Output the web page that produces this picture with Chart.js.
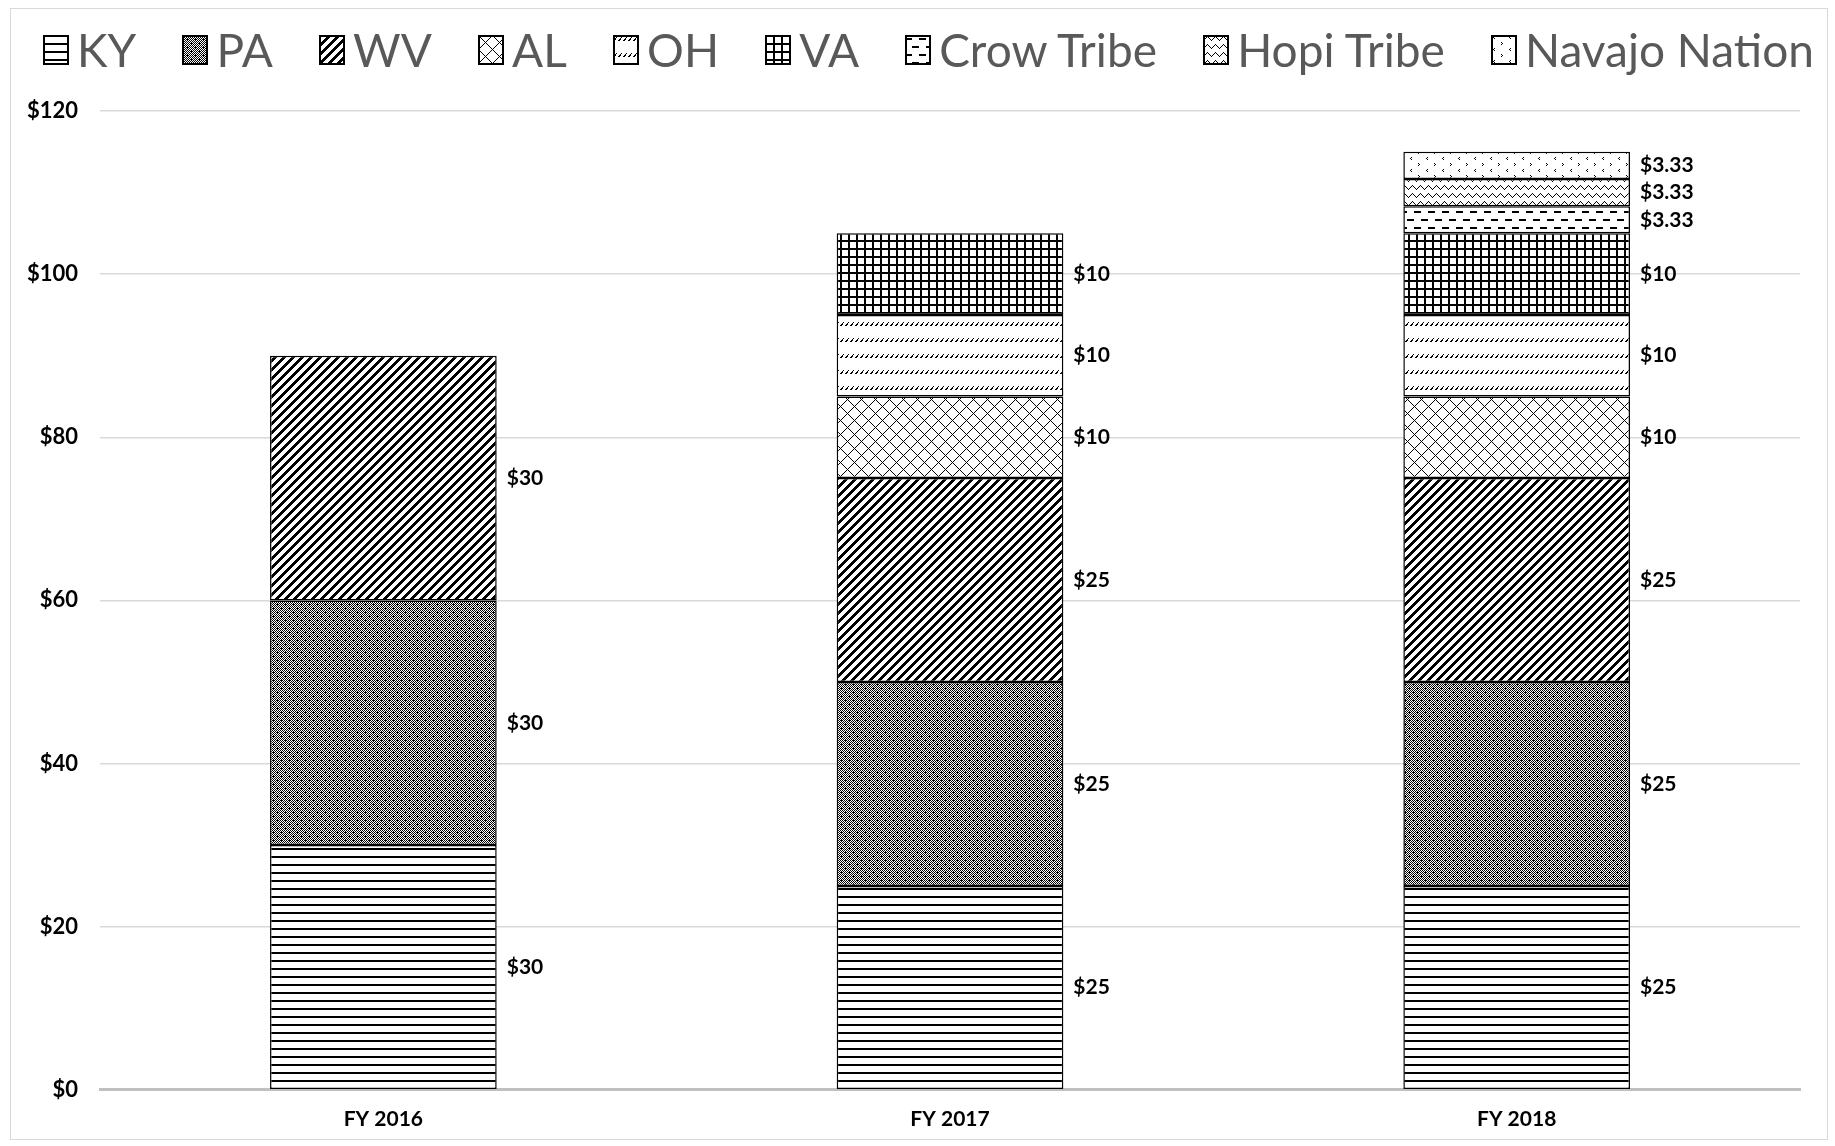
<!DOCTYPE html>
<html>
<head>
<meta charset="utf-8">
<script src="https://cdn.jsdelivr.net/npm/chart.js@4/dist/chart.umd.min.js"></script>
<style>
  body { margin: 0; background: #fff; }
  #wrap { position: relative; width: 1835px; height: 1146px; }
  #frame { position: absolute; left: 10px; top: 8px; width: 1818px; height: 1132px; border: 1.5px solid #d9d9d9; box-sizing: border-box; }
  #legend { position: absolute; left: 43px; width: 1771px; top: 22px; display: flex; justify-content: space-between; align-items: center;
            font-family: Lato, sans-serif; font-size: 46px; color: #595959; line-height: 55px; }
  #legend .item { display: flex; align-items: center; }
  #legend canvas { margin-right: 8px; }
  #box { position: absolute; left: 0; top: 0; width: 1835px; height: 1146px; }
  #box canvas { display: block; }
</style>
</head>
<body>
<div id="wrap">
  <div id="frame"></div>
  <div id="box"><canvas id="chart"></canvas></div>
  <div id="legend"></div>
</div>
<script>
const years = ['FY 2016', 'FY 2017', 'FY 2018']
const seriesNames = ['KY', 'PA', 'WV', 'AL', 'OH', 'VA', 'Crow Tribe', 'Hopi Tribe', 'Navajo Nation']
const KY = [30, 25, 25]
const PA = [30, 25, 25]
const WV = [30, 25, 25]
const AL = [null, 10, 10]
const OH = [null, 10, 10]
const VA = [null, 10, 10]
const crow = [null, null, 3.33]
const hopi = [null, null, 3.33]
const navajo = [null, null, 3.33]
const yTicks = [0, 20, 40, 60, 80, 100, 120]

// black-on-white fill patterns, one per series
function makeTile(w, h, draw) {
    const c = document.createElement('canvas')
    c.width = w
    c.height = h
    const ctx = c.getContext('2d')
    ctx.fillStyle = '#fff'
    ctx.fillRect(0, 0, w, h)
    ctx.fillStyle = '#000'
    draw(ctx, w, h)
    return c
}

const tiles = {
    'KY': makeTile(8, 8, (ctx) => { ctx.fillRect(0, 0, 8, 2) }),
    'PA': makeTile(8, 8, (ctx) => {
        for (let y = 0; y < 8; y++) {
            for (let x = 0; x < 8; x++) {
                if ((x + y) % 2 == 0) ctx.fillRect(x, y, 1, 1)
            }
        }
        ctx.fillRect(1, 0, 1, 1)
        ctx.fillRect(5, 4, 1, 1)
    }),
    'WV': makeTile(9, 9, (ctx) => {
        for (let y = 0; y < 9; y++) {
            for (let x = 0; x < 9; x++) {
                if ((x + y) % 9 < 4) ctx.fillRect(x, y, 1, 1)
            }
        }
    }),
    'AL': makeTile(14, 14, (ctx) => {
        for (let i = 0; i < 14; i++) {
            ctx.fillRect(i, i, 1, 1)
            ctx.fillRect(i, (14 - i) % 14, 1, 1)
        }
    }),
    'OH': makeTile(5, 16, (ctx) => {
        ctx.fillRect(0, 5, 1, 1)
        ctx.fillRect(1, 4, 1, 1)
        ctx.fillRect(2, 3, 1, 1)
        ctx.fillRect(3, 2, 1, 1)
        ctx.fillRect(1, 5, 1, 1)
        ctx.fillRect(2, 4, 1, 1)
    }),
    'VA': makeTile(8, 8, (ctx) => {
        ctx.fillRect(0, 0, 8, 2)
        ctx.fillRect(0, 0, 2, 8)
    }),
    'Crow Tribe': makeTile(14, 16, (ctx) => {
        ctx.fillRect(0, 3, 7, 2)
        ctx.fillRect(7, 11, 7, 2)
    }),
    'Hopi Tribe': makeTile(8, 8, (ctx) => {
        for (let x = 0; x < 8; x++) {
            const y = x <= 4 ? 5 - x : x - 3
            ctx.fillRect(x, y, 1, 1)
        }
    }),
    'Navajo Nation': makeTile(16, 12, (ctx) => {
        ctx.fillRect(3, 1, 1, 1)
        ctx.fillRect(2, 2, 1, 1)
        ctx.fillRect(3, 3, 1, 1)
        ctx.fillRect(10, 7, 1, 1)
        ctx.fillRect(11, 8, 1, 1)
        ctx.fillRect(10, 9, 1, 1)
    })
}

const chartCtx = document.getElementById('chart').getContext('2d')
function patternFor(name) {
    return chartCtx.createPattern(tiles[name], 'repeat')
}

const values = [KY, PA, WV, AL, OH, VA, crow, hopi, navajo]
const datasets = []
for (let i = 0; i < seriesNames.length; i++) {
    datasets.push({
        label: seriesNames[i],
        data: values[i],
        backgroundColor: patternFor(seriesNames[i]),
        borderColor: '#000',
        borderWidth: 1.5,
        borderSkipped: false,
        categoryPercentage: 1.0,
        barPercentage: 0.4
    })
}

// value labels to the right of each segment
const sideLabels = {
    id: 'sideLabels',
    afterDatasetsDraw(chart) {
        const ctx = chart.ctx
        ctx.save()
        ctx.font = 'bold 21px Lato'
        ctx.fillStyle = '#000'
        ctx.textAlign = 'left'
        ctx.textBaseline = 'middle'
        chart.data.datasets.forEach((ds, i) => {
            const meta = chart.getDatasetMeta(i)
            meta.data.forEach((bar, j) => {
                const v = ds.data[j]
                if (v == null) return
                ctx.fillText('$' + v, bar.x + bar.width / 2 + 10, (bar.y + bar.base) / 2)
            })
        })
        ctx.restore()
    }
}

const chart = new Chart(document.getElementById('chart'), {
    type: 'bar',
    data: { labels: years, datasets: datasets },
    options: {
        responsive: true,
        maintainAspectRatio: false,
        animation: false,
        devicePixelRatio: 1,
        layout: { padding: { left: 5, right: 35, top: 111, bottom: -3 } },
        plugins: {
            legend: { display: false },
            tooltip: { enabled: false }
        },
        scales: {
            x: {
                stacked: true,
                grid: { display: false, drawTicks: false },
                border: { display: true, color: '#c0c0c0', width: 3 },
                ticks: { color: '#000', font: { family: 'Lato', weight: 'bold', size: 21 }, padding: 17 }
            },
            y: {
                stacked: true,
                min: 0,
                max: 120,
                afterBuildTicks: (axis) => { axis.ticks = yTicks.map(v => ({ value: v })) },
                grid: { color: '#d9d9d9', lineWidth: 1.5, drawTicks: false },
                border: { display: false },
                ticks: {
                    color: '#000',
                    font: { family: 'Lato', weight: 'bold', size: 22 },
                    padding: 22,
                    callback: (v) => '$' + v
                }
            }
        }
    },
    plugins: [sideLabels]
})

// legend as html, swatches painted with the same patterns
const legend = document.getElementById('legend')
for (let i = 0; i < seriesNames.length; i++) {
    const item = document.createElement('div')
    item.className = 'item'
    const sw = document.createElement('canvas')
    sw.width = 26
    sw.height = 30
    const sctx = sw.getContext('2d')
    sctx.fillStyle = sctx.createPattern(tiles[seriesNames[i]], 'repeat')
    sctx.fillRect(0, 0, 26, 30)
    sctx.strokeStyle = '#000'
    sctx.lineWidth = 2
    sctx.strokeRect(1, 1, 24, 28)
    const txt = document.createElement('span')
    txt.textContent = seriesNames[i]
    item.appendChild(sw)
    item.appendChild(txt)
    legend.appendChild(item)
}
</script>
</body>
</html>
